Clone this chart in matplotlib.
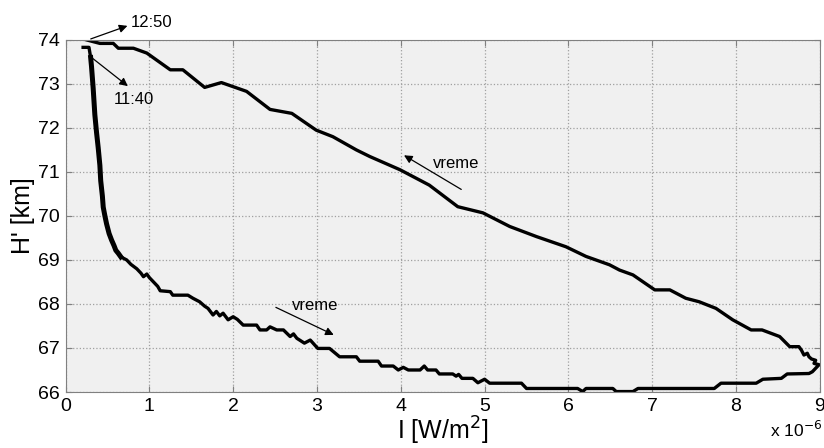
import matplotlib.pyplot as plt

plt.rcParams['font.family'] = ['Liberation Sans', 'DejaVu Sans']

# I in units of 1e-6 W/m^2, H' in km, ordered in time (11:40 -> 12:50)
intensity = [0.21, 0.28, 0.30, 0.31, 0.33, 0.35, 0.37, 0.39, 0.41, 0.42, 0.44, 0.45,
             0.47, 0.49, 0.52, 0.55, 0.58, 0.60, 0.63, 0.66, 0.73, 0.78, 0.85, 0.90, 0.93,
             0.97, 1.00, 1.05, 1.10, 1.13, 1.25, 1.28, 1.46, 1.52, 1.60, 1.66, 1.70,
             1.76, 1.80, 1.84, 1.88, 1.94, 2.00, 2.05, 2.12, 2.28, 2.32, 2.40, 2.44,
             2.52, 2.60, 2.68, 2.72, 2.76, 2.85, 2.92, 3.01, 3.15, 3.27, 3.47, 3.51,
             3.73, 3.77, 3.91, 3.97, 4.03, 4.09, 4.23, 4.28, 4.32, 4.42, 4.46, 4.62,
             4.66, 4.69, 4.73, 4.86, 4.92, 5.00, 5.06, 5.44, 5.50, 6.11, 6.17, 6.21,
             6.53, 6.57, 6.77, 6.83, 7.74, 7.82, 8.24, 8.32, 8.54, 8.61, 8.87, 8.91,
             8.94, 8.97, 8.99, 8.93, 8.95, 8.90, 8.87, 8.85, 8.81, 8.78, 8.75, 8.64,
             8.52, 8.31, 8.18, 7.96, 7.76, 7.56, 7.40, 7.21, 7.03, 6.77, 6.61, 6.49,
             6.21, 5.97, 5.62, 5.30, 4.98, 4.68, 4.34, 3.99, 3.63, 3.47, 3.19, 2.99,
             2.70, 2.44, 2.16, 1.86, 1.66, 1.40, 1.25, 0.97, 0.81, 0.63, 0.57, 0.41,
             0.25]
height = [73.83, 73.83, 73.60, 73.40, 72.90, 72.30, 71.90, 71.55, 71.15, 70.80, 70.45, 70.20,
          70.00, 69.82, 69.60, 69.45, 69.32, 69.22, 69.15, 69.07, 69.00, 68.90, 68.80, 68.70, 68.62,
          68.68, 68.60, 68.50, 68.40, 68.30, 68.28, 68.20, 68.20, 68.13, 68.05, 67.95, 67.90,
          67.75, 67.83, 67.73, 67.79, 67.64, 67.71, 67.65, 67.52, 67.52, 67.41, 67.41, 67.48,
          67.41, 67.41, 67.26, 67.32, 67.22, 67.11, 67.18, 66.99, 66.99, 66.80, 66.80, 66.70,
          66.70, 66.59, 66.59, 66.50, 66.56, 66.50, 66.50, 66.59, 66.50, 66.50, 66.41, 66.41,
          66.36, 66.40, 66.31, 66.31, 66.21, 66.29, 66.20, 66.20, 66.08, 66.08, 66.01, 66.08,
          66.08, 66.01, 66.01, 66.08, 66.08, 66.20, 66.20, 66.29, 66.31, 66.41, 66.42, 66.46,
          66.52, 66.58, 66.62, 66.65, 66.72, 66.75, 66.80, 66.88, 66.84, 66.95, 67.03, 67.03,
          67.26, 67.41, 67.41, 67.64, 67.90, 68.05, 68.13, 68.32, 68.32, 68.66, 68.77, 68.89,
          69.08, 69.30, 69.53, 69.76, 70.07, 70.21, 70.70, 71.05, 71.35, 71.50, 71.80, 71.95,
          72.33, 72.42, 72.83, 73.03, 72.92, 73.32, 73.32, 73.70, 73.81, 73.81, 73.92, 73.92,
          74.00]

fig = plt.figure(figsize=(8.24, 4.48), dpi=100)
ax = fig.add_axes([0.0795, 0.125, 0.9155, 0.786])
ax.set_facecolor('#f0f0f0')

ax.plot(intensity, height, color='black', linewidth=2.4)
# the steep part is drawn heavier in the original
ax.plot(intensity[2:20], height[2:20], color='black', linewidth=3.6)

ax.set_xlim(0, 9)
ax.set_ylim(66, 74)
ax.set_xticks(range(0, 10))
ax.set_yticks(range(66, 75))
ax.grid(True, linestyle=':', color='#a0a0a0', linewidth=0.9)
ax.tick_params(direction='in', top=True, right=True, labelsize=14,
               color='#808080', length=4, pad=4)
for s in ax.spines.values():
    s.set_color('#808080')

ax.set_xlabel('I [W/m$^2$]', fontsize=18, labelpad=0)
ax.set_ylabel("H' [km]", fontsize=18, labelpad=2)
fig.text(0.935, 0.025, 'x 10$^{-6}$', fontsize=12.5)

arr = dict(arrowstyle='-|>', color='black', lw=0.9, mutation_scale=12)
ax.annotate('', xy=(0.77, 74.34), xytext=(0.27, 74.0), arrowprops=arr, annotation_clip=False)
ax.text(0.78, 74.4, '12:50', fontsize=12, va='center', ha='left', clip_on=False)
ax.annotate('', xy=(0.77, 72.91), xytext=(0.27, 73.66), arrowprops=arr)
ax.text(0.57, 72.65, '11:40', fontsize=12, va='center', ha='left')

ax.annotate('', xy=(3.23, 67.27), xytext=(2.48, 67.95), arrowprops=arr)
ax.text(2.70, 67.96, 'vreme', fontsize=12, va='center', ha='left')
ax.annotate('', xy=(4.01, 71.41), xytext=(4.75, 70.57), arrowprops=arr)
ax.text(4.38, 71.2, 'vreme', fontsize=12, va='center', ha='left')

fig.savefig('out.png', dpi=100)
